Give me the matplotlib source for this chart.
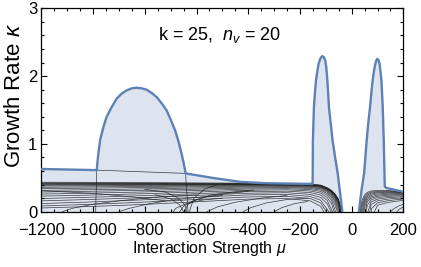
import numpy as np
import matplotlib
matplotlib.use("Agg")
import matplotlib.pyplot as plt
from matplotlib.ticker import MultipleLocator, FuncFormatter

plt.rcParams['font.family'] = ['Liberation Sans', 'DejaVu Sans']
plt.rcParams['mathtext.fontset'] = 'custom'
plt.rcParams['mathtext.rm'] = 'Liberation Sans'
plt.rcParams['mathtext.it'] = 'Liberation Sans:italic'

# ---- data: maximal growth rate (blue envelope) ----
blue_mu = [-1200, -986, -980, -973, -960, -948, -930, -909, -890, -870, -850, -832, -812, -793,
           -775, -754, -735, -716, -700, -683, -670, -658, -650, -642,
           -540, -432, -329, -155,
           -151, -150.5, -150, -148, -146, -142, -138, -133, -128, -121, -114, -108, -102, -98,
           -94, -91, -88, -81, -74, -64, -54, -45, -36,
           np.nan,
           28, 33, 38, 43, 48, 53, 58, 64, 71, 76, 81, 86, 90, 95, 99, 104, 108, 111, 115,
           117.5, 120, 122, 124, 126, 128, 135, 200]
blue_k = [0.63, 0.613, 0.85, 1.054, 1.25, 1.397, 1.53, 1.667, 1.74, 1.79, 1.82, 1.829, 1.82, 1.80,
          1.755, 1.69, 1.60, 1.496, 1.36, 1.20, 1.04, 0.858, 0.72, 0.565,
          0.50, 0.44, 0.42, 0.41,
          0.41, 0.70, 1.054, 1.30, 1.544, 1.76, 1.937, 2.07, 2.18, 2.26, 2.295, 2.28, 2.231, 2.12,
          1.937, 1.75, 1.544, 1.30, 1.054, 0.80, 0.565, 0.28, 0.0,
          np.nan,
          0.0, 0.16, 0.319, 0.44, 0.565, 0.81, 1.054, 1.30, 1.544, 1.75, 1.937, 2.07, 2.157, 2.23,
          2.255, 2.235, 2.18, 2.08, 1.937, 1.75, 1.544, 1.30, 1.054, 0.70, 0.368, 0.35, 0.294]

# ---- data: individual eigen-branches (thin black curves) ----
fan_left_mu = [-1200, -1000, -800, -600, -400, -250, -160, -120, -95, -78, -65, -52]
fan_left_k = [
    [0.435, 0.433, 0.430, 0.425, 0.420, 0.414, 0.408, 0.393, 0.355, 0.315, 0.265, 0.195],
    [0.425, 0.423, 0.420, 0.417, 0.414, 0.409, 0.403, 0.388, 0.350, 0.310, 0.260, 0.185],
    [0.418, 0.417, 0.415, 0.412, 0.410, 0.405, 0.400, 0.385, 0.345, 0.305, 0.255, 0.175],
    [0.410, 0.410, 0.409, 0.408, 0.407, 0.402, 0.397, 0.382, 0.342, 0.302, 0.250, 0.165],
    [0.400, 0.401, 0.402, 0.403, 0.404, 0.399, 0.393, 0.378, 0.338, 0.295, 0.240, 0.150],
    [0.392, 0.394, 0.396, 0.398, 0.400, 0.396, 0.390, 0.375, 0.335, 0.290, 0.235, 0.140],
    [0.378, 0.382, 0.386, 0.390, 0.394, 0.391, 0.384, 0.368, 0.326, 0.280, 0.220, 0.120],
    [0.360, 0.366, 0.372, 0.379, 0.386, 0.385, 0.377, 0.360, 0.316, 0.268, 0.205, 0.090],
    [0.340, 0.348, 0.357, 0.366, 0.376, 0.377, 0.368, 0.350, 0.305, 0.252, 0.180, 0.050],
    [0.315, 0.325, 0.337, 0.350, 0.364, 0.367, 0.356, 0.337, 0.290, 0.232, 0.150, np.nan],
    [0.290, 0.302, 0.316, 0.332, 0.350, 0.355, 0.342, 0.320, 0.270, 0.205, 0.100, np.nan],
    [0.260, 0.275, 0.292, 0.312, 0.334, 0.340, 0.325, 0.300, 0.245, 0.170, np.nan, np.nan],
    [0.230, 0.246, 0.266, 0.290, 0.316, 0.323, 0.305, 0.275, 0.210, 0.120, np.nan, np.nan],
    [0.195, 0.214, 0.238, 0.266, 0.296, 0.303, 0.282, 0.245, 0.170, np.nan, np.nan, np.nan],
    [0.160, 0.182, 0.208, 0.240, 0.273, 0.280, 0.255, 0.210, 0.120, np.nan, np.nan, np.nan],
    [0.120, 0.145, 0.176, 0.212, 0.248, 0.255, 0.225, 0.170, np.nan, np.nan, np.nan, np.nan],
    [0.085, 0.110, 0.142, 0.180, 0.218, 0.226, 0.195, 0.130, np.nan, np.nan, np.nan, np.nan],
    [0.055, 0.078, 0.108, 0.146, 0.186, 0.195, 0.160, 0.080, np.nan, np.nan, np.nan, np.nan],
]
fan_left_end = [-37, -38, -40, -40.5, -41, -42, -43, -45, -47, -51, -55, -62, -68, -74, -80,
                -88, -98, -108]

fan_right_mu = [40, 50, 60, 75, 100, 140, 200]
fan_right_k = [
    [0.170, 0.250, 0.285, 0.305, 0.315, 0.315, 0.290],
    [0.120, 0.220, 0.265, 0.290, 0.302, 0.305, 0.285],
    [0.070, 0.190, 0.245, 0.275, 0.290, 0.295, 0.280],
    [np.nan, 0.160, 0.225, 0.260, 0.278, 0.285, 0.275],
    [np.nan, 0.120, 0.200, 0.240, 0.262, 0.272, 0.268],
    [np.nan, 0.060, 0.175, 0.220, 0.245, 0.258, 0.258],
    [np.nan, np.nan, 0.145, 0.200, 0.228, 0.243, 0.248],
    [np.nan, np.nan, 0.090, 0.175, 0.208, 0.226, 0.236],
    [np.nan, np.nan, np.nan, 0.145, 0.185, 0.207, 0.222],
    [np.nan, np.nan, np.nan, 0.105, 0.160, 0.186, 0.206],
    [np.nan, np.nan, np.nan, 0.040, 0.130, 0.163, 0.188],
    [np.nan, np.nan, np.nan, np.nan, 0.095, 0.137, 0.168],
]
fan_right_start = [31, 34, 37, 40, 44, 48, 52, 57, 63, 70, 78, 88]

extra_mu = [
    [-986, -642],
    [-986, -987, -989, -990],
    [-642, -640, -636, -633],
    [-1120, -1080, -1000, -900, -800, -700, -600],
    [-900, -860, -780, -700, -600, -500],
    [-665, -650, -620, -560, -480, -400],
    [-645, -635, -600, -540, -460, -380],
    [-690, -680, -640, -580, -500],
    [-560, -520, -450, -350, -250],
    [-420, -390, -330, -250, -170],
    [-300, -270, -220, -170],
    [-800, -720, -670, -645, -638],
    [-760, -700, -665, -650],
    [-520, -570, -610, -628],
    [-1200, -1000, -850, -720],
    [150, 165, 185, 200],
    [175, 185, 200],
]
extra_k = [
    [0.613, 0.565],
    [0.613, 0.40, 0.20, 0.0],
    [0.565, 0.40, 0.20, 0.0],
    [0.0, 0.05, 0.11, 0.16, 0.20, 0.23, 0.25],
    [0.0, 0.05, 0.12, 0.17, 0.21, 0.24],
    [0.0, 0.08, 0.15, 0.22, 0.27, 0.30],
    [0.0, 0.10, 0.18, 0.25, 0.29, 0.32],
    [0.0, 0.05, 0.12, 0.17, 0.20],
    [0.0, 0.07, 0.14, 0.20, 0.24],
    [0.0, 0.06, 0.13, 0.18, 0.20],
    [0.0, 0.06, 0.12, 0.15],
    [0.33, 0.29, 0.20, 0.10, 0.0],
    [0.25, 0.19, 0.10, 0.0],
    [0.40, 0.33, 0.20, 0.0],
    [0.31, 0.27, 0.22, 0.16],
    [0.0, 0.05, 0.09, 0.11],
    [0.0, 0.04, 0.07],
]

x_ticks = [-1200, -1000, -800, -600, -400, -200, 0, 200]
y_ticks = [0, 1, 2, 3]

# ---- figure ----
fig = plt.figure(figsize=(4.21, 2.67), dpi=100)
ax = fig.add_axes([0.0983, 0.2071, 0.8599, 0.7618])

fill_color = '#dde4ef'
blue = '#5e81b5'
line_kw = dict(color='#1c1c1c', lw=0.5, alpha=0.85, zorder=2)

bm = np.array(blue_mu, dtype=float)
bk = np.array(blue_k, dtype=float)
ok = ~np.isnan(bm)
ax.fill_between(bm[ok], 0, bk[ok], color=fill_color, lw=0, zorder=1)

for row, end in zip(fan_left_k, fan_left_end):
    r = np.array(row)
    m = ~np.isnan(r)
    xs = list(np.array(fan_left_mu)[m]) + [end]
    ys = list(r[m]) + [0.0]
    ax.plot(xs, ys, **line_kw)

for row, start in zip(fan_right_k, fan_right_start):
    r = np.array(row)
    m = ~np.isnan(r)
    xs = [start] + list(np.array(fan_right_mu)[m])
    ys = [0.0] + list(r[m])
    ax.plot(xs, ys, **line_kw)

for xs, ys in zip(extra_mu, extra_k):
    ax.plot(xs, ys, **line_kw)

ax.plot(bm, bk, color=blue, lw=1.7, zorder=3, solid_joinstyle='round')

ax.set_xlim(-1200, 200)
ax.set_ylim(0, 3)
ax.set_xticks(x_ticks)
ax.set_yticks(y_ticks)
ax.xaxis.set_minor_locator(MultipleLocator(50))
ax.yaxis.set_minor_locator(MultipleLocator(0.2))
ax.xaxis.set_major_formatter(FuncFormatter(lambda v, p: ('\u2212%d' % -v) if v < 0 else '%d' % v))
ax.tick_params(which='both', direction='in', top=True, right=True, labelsize=12,
               width=0.8, colors='black')
ax.tick_params(which='major', length=4)
ax.tick_params(which='minor', length=2.2)
ax.tick_params(axis='x', pad=8)
ax.tick_params(axis='y', pad=3)
for s in ax.spines.values():
    s.set_linewidth(0.9)

ax.set_xlabel('Interaction Strength $\\mu$', fontsize=11.5)
ax.xaxis.set_label_coords(0.463, -0.135)
ax.set_ylabel('Growth Rate $\\kappa$', fontsize=16)
ax.yaxis.set_label_coords(-0.046, 0.574)
ax.text(0.493, 0.869, 'k = 25,  $n_v$ = 20', transform=ax.transAxes, ha='center', va='center',
        fontsize=13)

fig.savefig('out.png', dpi=100)
